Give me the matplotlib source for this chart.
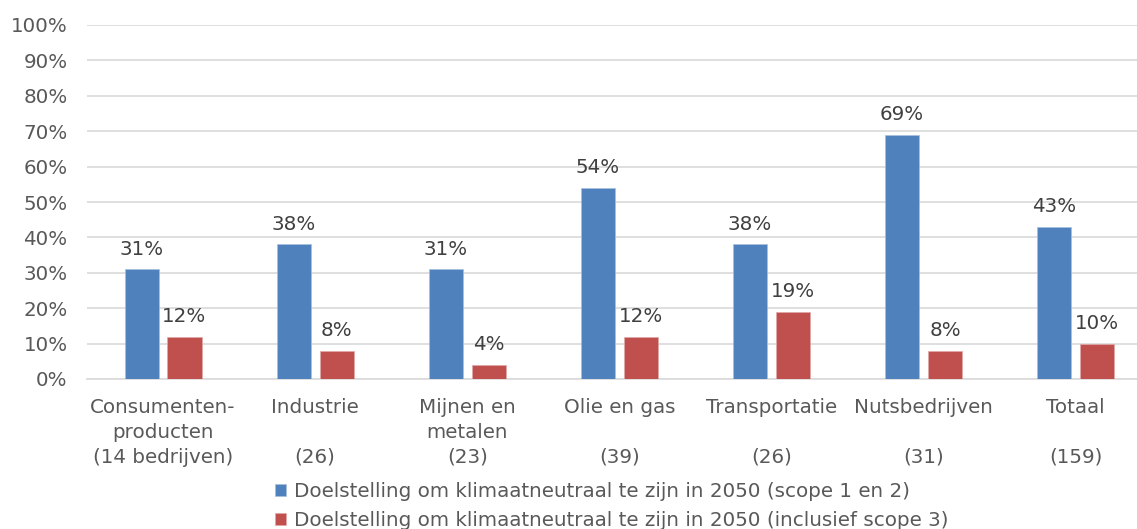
import numpy as np
import matplotlib.pyplot as plt

categories = ["Consumenten-\nproducten\n(14 bedrijven)", "Industrie\n\n(26)", "Mijnen en\nmetalen\n(23)",
              "Olie en gas\n\n(39)", "Transportatie\n\n(26)", "Nutsbedrijven\n\n(31)", "Totaal\n\n(159)"]
scope12 = [31, 38, 31, 54, 38, 69, 43]
scope3 = [12, 8, 4, 12, 19, 8, 10]
series_names = ["Doelstelling om klimaatneutraal te zijn in 2050 (scope 1 en 2)",
                "Doelstelling om klimaatneutraal te zijn in 2050 (inclusief scope 3)"]

plt.rcParams['font.family'] = ['DejaVu Sans']
text_color = '#595959'
fs = 14.3

fig = plt.figure(figsize=(11.37, 5.29), dpi=100)
ax = fig.add_axes([87 / 1137, 1 - 379 / 529, 1 - 87 / 1137, 354 / 529])

x = np.arange(len(categories))
w = 0.224
off = 0.141
b1 = ax.bar(x - off, scope12, w, color='#4f81bd', edgecolor='#a7c0de', linewidth=0.5, label=series_names[0], zorder=3)
b2 = ax.bar(x + off, scope3, w, color='#c0504d', edgecolor='#e0a8a6', linewidth=0.5, label=series_names[1], zorder=3)

for bars, vals in [(b1, scope12), (b2, scope3)]:
    for rect, v in zip(bars, vals):
        ax.annotate(f"{v}%", (rect.get_x() + rect.get_width() / 2, v), xytext=(0, 7.5),
                    textcoords='offset points', ha='center', va='bottom', fontsize=fs, color='#404040')

ax.set_ylim(0, 100)
ax.set_xlim(-0.5, (1137 - 163) / 152.1)
ax.set_yticks(range(0, 101, 10))
ax.set_yticklabels([f"{t}%" for t in range(0, 101, 10)])
ax.set_xticks(x)
ax.set_xticklabels(categories, linespacing=1.38)
ax.tick_params(axis='y', length=0, pad=14, labelsize=fs, labelcolor=text_color)
ax.tick_params(axis='x', length=0, pad=14, labelsize=fs, labelcolor=text_color)
ax.grid(axis='y', color='#d9d9d9', linewidth=1.2, zorder=0)
for s in ['top', 'right', 'left']:
    ax.spines[s].set_visible(False)
ax.spines['bottom'].set_color('#d9d9d9')
ax.spines['bottom'].set_linewidth(1.2)

leg = fig.legend(loc='center', bbox_to_anchor=(612 / 1137, 1 - 506 / 529), ncol=1, frameon=False,
                 fontsize=fs, handlelength=0.55, handleheight=0.55, handletextpad=0.4, labelspacing=0.5)
for t in leg.get_texts():
    t.set_color(text_color)

fig.savefig('out.png', dpi=100)
